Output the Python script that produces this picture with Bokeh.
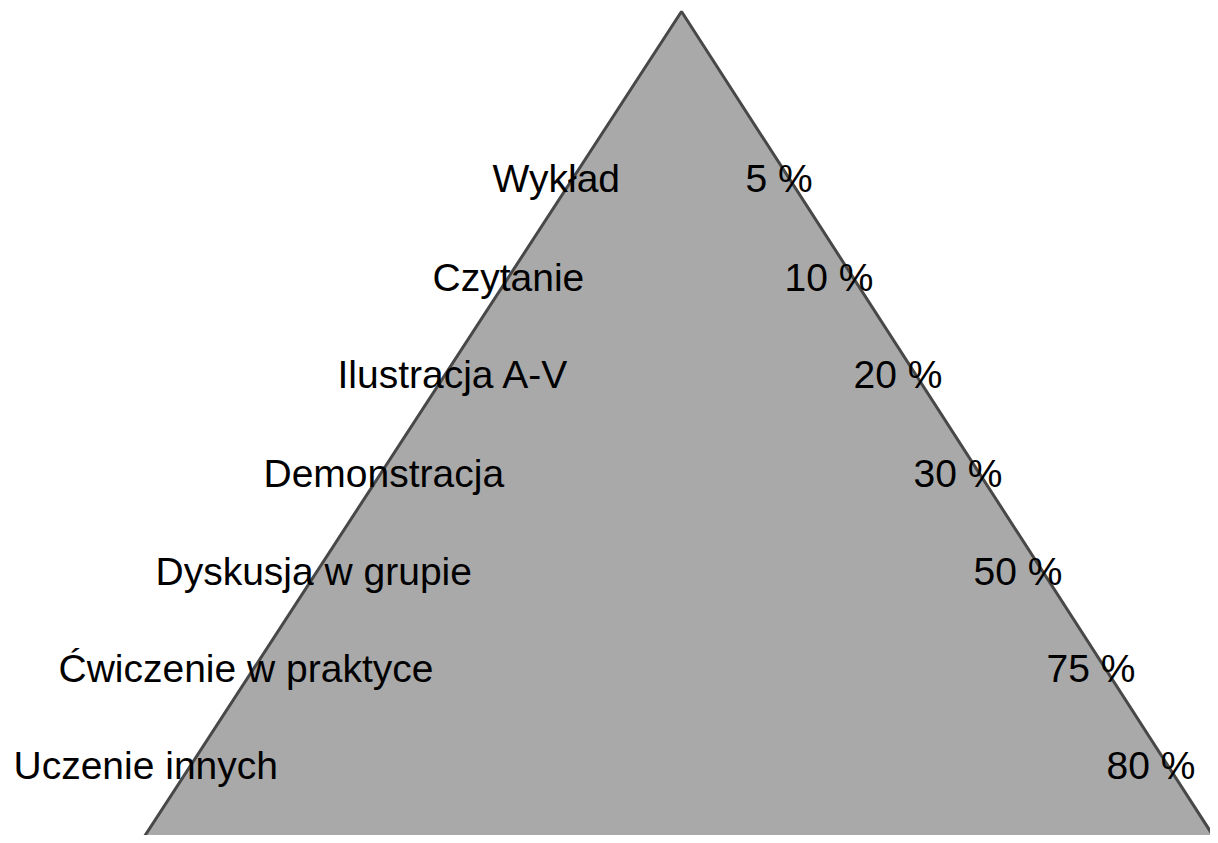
from bokeh.plotting import figure
from bokeh.models import Range1d, ColumnDataSource
from bokeh.embed import file_html
from bokeh.resources import INLINE
from bokeh.core.properties import value

# ---- data ----
methods = ["Wykład", "Czytanie", "Ilustracja A-V", "Demonstracja",
           "Dyskusja w grupie", "Ćwiczenie w praktyce", "Uczenie innych"]
retention = [5, 10, 20, 30, 50, 75, 80]
pct_labels = [f"{v} %" for v in retention]

# ---- layout (pixel-like plot units) ----
row_baseline = [178, 277, 374, 473, 571, 668, 765]
method_x = [492, 432, 337, 263, 155, 58, 13]
pct_x = [745, 784, 853, 913, 973, 1046, 1106]
apex = (681, 11)
base_y = 842
base_left, base_right = 140, 1217

p = figure(width=1210, height=835, output_backend="svg", toolbar_location=None,
           x_range=Range1d(0, 1210), y_range=Range1d(835, 0),
           min_border=0, x_axis_location=None, y_axis_location=None)
p.grid.visible = False
p.outline_line_color = None
p.background_fill_color = "white"
p.border_fill_color = "white"

p.patch([apex[0], base_right, base_left], [apex[1], base_y, base_y],
        fill_color="#a9a9a9", line_color="#484848", line_width=3)

src_m = ColumnDataSource(dict(x=method_x, y=row_baseline, t=methods))
src_p = ColumnDataSource(dict(x=pct_x, y=row_baseline, t=pct_labels))
for src in (src_m, src_p):
    p.text(x="x", y="y", text="t", source=src, text_font=value("Liberation Sans"),
           text_font_size="39px", text_color="#000000", text_align="left",
           text_baseline="alphabetic")

open("out.html", "w").write(file_html(p, INLINE))
